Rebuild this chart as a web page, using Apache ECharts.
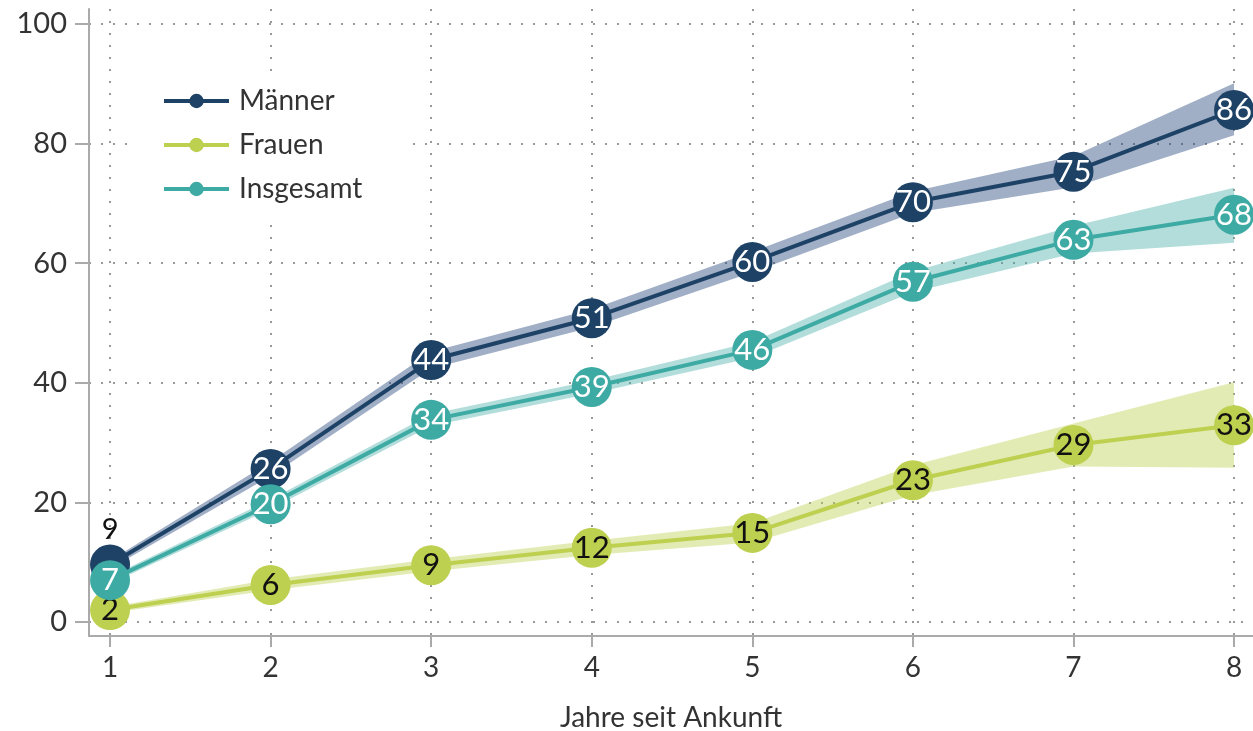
<!DOCTYPE html>
<html>
<head>
<meta charset="utf-8">
<script src="https://cdn.jsdelivr.net/npm/echarts@6/dist/echarts.min.js"></script>
<style>
html,body{margin:0;padding:0;background:#fff;}
#chart{width:1253px;height:731px;}
</style>
</head>
<body>
<div id="chart"></div>
<script>
// ---- Data ----
const years = [1, 2, 3, 4, 5, 6, 7, 8];
const yTicks = [0, 20, 40, 60, 80, 100];
const seriesNames = ['Männer', 'Frauen', 'Insgesamt'];

const maenner = [9.6, 25.6, 43.8, 50.8, 60.2, 70.2, 75.3, 85.6];
const maennerLow = [8.9, 24.4, 42.4, 49.3, 58.5, 68.4, 72.7, 81.4];
const maennerHigh = [10.3, 26.8, 45.2, 52.3, 61.9, 72.0, 77.9, 90.1];
const maennerLabels = ['9', '26', '44', '51', '60', '70', '75', '86'];

const frauen = [2.0, 6.2, 9.5, 12.4, 14.9, 23.7, 29.6, 32.9];
const frauenLow = [1.5, 5.3, 8.5, 11.2, 13.3, 21.2, 26.0, 25.8];
const frauenHigh = [2.5, 7.1, 10.5, 13.6, 16.5, 26.2, 33.2, 40.1];
const frauenLabels = ['2', '6', '9', '12', '15', '23', '29', '33'];

const insgesamt = [7.0, 19.7, 33.8, 39.3, 45.5, 56.9, 63.9, 68.1];
const insgesamtLow = [6.4, 18.9, 32.8, 38.2, 44.2, 55.2, 61.6, 63.4];
const insgesamtHigh = [7.6, 20.5, 34.8, 40.4, 46.8, 58.6, 66.2, 72.6];
const insgesamtLabels = ['7', '20', '34', '39', '46', '57', '63', '68'];

// ---- Styles ----
const FONT = 'Lato, "Source Sans Pro", "Noto Sans", sans-serif';
const C_M = '#1d4266';
const C_F = '#bdd04f';
const C_I = '#3eaaa4';

function band(low, high, fill) {
  return {
    type: 'custom',
    silent: true,
    z: 1,
    clip: false,
    data: [[years[0], low[0]]],
    renderItem: function (params, api) {
      const pts = [];
      for (let i = 0; i < years.length; i++) pts.push(api.coord([years[i], high[i]]));
      for (let i = years.length - 1; i >= 0; i--) pts.push(api.coord([years[i], low[i]]));
      return { type: 'polygon', shape: { points: pts }, style: { fill: fill } };
    }
  };
}

function line(name, vals, labels, color, labelColor, z) {
  return {
    name: name,
    type: 'line',
    z: z,
    data: years.map((x, i) => [x, vals[i]]),
    symbol: 'circle',
    symbolSize: 40,
    showSymbol: true,
    clip: false,
    animation: false,
    lineStyle: { color: color, width: 4 },
    itemStyle: { color: color },
    label: {
      show: true,
      position: 'inside',
      fontFamily: FONT,
      fontSize: 31,
      color: labelColor,
      formatter: p => labels[p.dataIndex]
    }
  };
}

const mSeries = line('Männer', maenner, maennerLabels, C_M, '#ffffff', 3);
// first point label sits above the marker in black
mSeries.data[0] = {
  value: [years[0], maenner[0]],
  label: { position: 'top', distance: 0, color: '#111', fontSize: 29 }
};

const option = {
  animation: false,
  backgroundColor: '#ffffff',
  grid: { left: 89, right: 0, top: 9, bottom: 95, containLabel: false, outerBoundsMode: 'none' },
  legend: {
    data: seriesNames,
    orient: 'vertical',
    left: 135,
    top: 74,
    backgroundColor: '#ffffff',
    padding: [13, 45, 13, 27],
    itemWidth: 65,
    itemHeight: 18,
    itemGap: 16,
    lineStyle: { width: 4 },
    textStyle: { fontFamily: FONT, fontSize: 28, color: '#333', lineHeight: 28, padding: [0, 0, 0, 5] }
  },
  xAxis: {
    type: 'value',
    min: 0.869,
    max: 8.118,
    name: 'Jahre seit Ankunft',
    nameLocation: 'middle',
    nameGap: 68,
    nameTextStyle: { fontFamily: FONT, fontSize: 28, color: '#333' },
    axisLine: { show: true, onZero: false, lineStyle: { color: '#aaaaaa', width: 2 } },
    axisTick: { show: true, length: 11, customValues: years, lineStyle: { color: '#aaaaaa', width: 2 } },
    axisLabel: { customValues: years, margin: 18, fontFamily: FONT, fontSize: 28, color: '#333' },
    splitLine: { show: true, lineStyle: { color: '#999', width: 2, type: [2, 10] } }
  },
  yAxis: {
    type: 'value',
    min: -2.34,
    max: 102.5,
    axisLine: { show: true, onZero: false, lineStyle: { color: '#aaaaaa', width: 2 } },
    axisTick: { show: true, length: 14, customValues: yTicks, lineStyle: { color: '#aaaaaa', width: 2 } },
    axisLabel: { customValues: yTicks, margin: 22, fontFamily: FONT, fontSize: 29, color: '#333' },
    splitLine: { show: true, lineStyle: { color: '#999', width: 2, type: [2, 10] } }
  },
  series: [
    band(maennerLow, maennerHigh, 'rgba(28,62,118,0.42)'),
    band(insgesamtLow, insgesamtHigh, 'rgba(62,170,164,0.40)'),
    band(frauenLow, frauenHigh, 'rgba(189,208,79,0.42)'),
    line('Frauen', frauen, frauenLabels, C_F, '#111111', 2),
    mSeries,
    line('Insgesamt', insgesamt, insgesamtLabels, C_I, '#ffffff', 4)
  ]
};

const chart = echarts.init(document.getElementById('chart'), null, { renderer: 'canvas' });
chart.setOption(option);
</script>
</body>
</html>
